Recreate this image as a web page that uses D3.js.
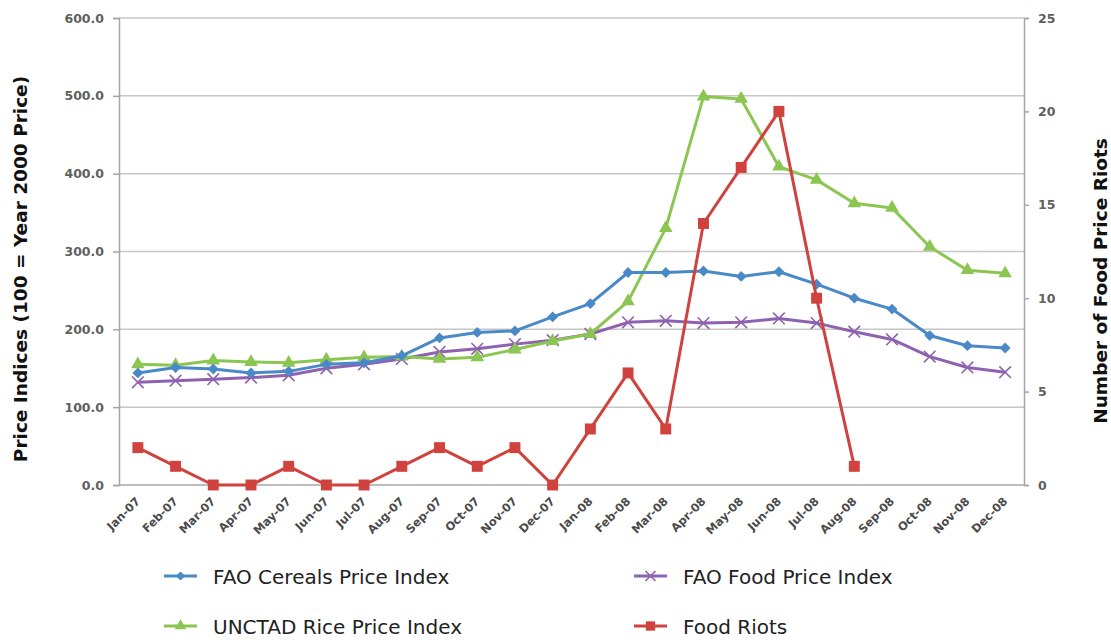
<!DOCTYPE html>
<html>
<head>
<meta charset="utf-8">
<script src="https://cdn.jsdelivr.net/npm/d3@7"></script>
<style>
  html, body { margin: 0; padding: 0; background: #fff; }
  svg { display: block; font-family: "DejaVu Sans", "Open Sans", sans-serif; }
</style>
</head>
<body>
<svg id="chart" width="1111" height="640"></svg>
<script>
// Months, Jan 2007 – Dec 2008
const months = ["Jan-07","Feb-07","Mar-07","Apr-07","May-07","Jun-07","Jul-07","Aug-07","Sep-07","Oct-07","Nov-07","Dec-07",
                "Jan-08","Feb-08","Mar-08","Apr-08","May-08","Jun-08","Jul-08","Aug-08","Sep-08","Oct-08","Nov-08","Dec-08"];

// Price indices (100 = year 2000 price)
const cerealsIndex = [144,151,149,144,146,155,157,166,189,196,198,216,233,273,273,275,268,274,258,240,226,192,179,176];
const foodIndex    = [132,134,136,138,141,150,155,162,171,175,181,186,194,209,211,208,209,214,208,197,187,165,151,145];
const riceIndex    = [155,154,160,158,157,161,164,165,162,164,174,185,194,236,330,499,496,409,392,362,356,306,276,272];

// Number of food price riots (Jan-07 – Aug-08)
const riots = [2,1,0,0,1,0,0,1,2,1,2,0,3,6,3,14,17,20,10,1];

const leftTicks  = [0,100,200,300,400,500,600];
const rightTicks = [0,5,10,15,20,25];

const colors = { cereals: "#4A89C8", food: "#8E62B0", rice: "#8CC652", riots: "#D0423E" };

const svg = d3.select("#chart");
const plot = { left: 119, right: 1024, top: 18, bottom: 485 };

const x = d3.scalePoint().domain(months).range([plot.left, plot.right]).padding(0.5);
const yL = d3.scaleLinear().domain([0, 600]).range([plot.bottom, plot.top]);
const yR = d3.scaleLinear().domain([0, 25]).range([plot.bottom, plot.top]);

// Horizontal gridlines
svg.append("g")
  .selectAll("line")
  .data(leftTicks.filter(d => d > 0))
  .join("line")
  .attr("x1", plot.left).attr("x2", plot.right)
  .attr("y1", d => yL(d)).attr("y2", d => yL(d))
  .attr("stroke", "#c6c6c6").attr("stroke-width", 1.5);

// Left axis
const axL = svg.append("g")
  .attr("transform", `translate(${plot.left},0)`)
  .call(d3.axisLeft(yL).tickValues(leftTicks).tickFormat(d3.format(".1f")).tickSize(6).tickPadding(9));
axL.select(".domain").attr("stroke", "#a6a6a6").attr("stroke-width", 1.5);
axL.selectAll(".tick line").attr("stroke", "#a6a6a6").attr("stroke-width", 1.5);
axL.selectAll("text").attr("fill", "#5f5f5f").attr("font-size", 12.5).attr("font-weight", 700)
  .attr("font-family", "DejaVu Sans");

// Right axis
const axR = svg.append("g")
  .attr("transform", `translate(${plot.right},0)`)
  .call(d3.axisRight(yR).tickValues(rightTicks).tickFormat(d3.format("d")).tickSize(5).tickPadding(9));
axR.select(".domain").attr("stroke", "#a6a6a6").attr("stroke-width", 1.5);
axR.selectAll(".tick line").attr("stroke", "#a6a6a6").attr("stroke-width", 1.5);
axR.selectAll("text").attr("fill", "#5f5f5f").attr("font-size", 12.5).attr("font-weight", 700)
  .attr("font-family", "DejaVu Sans");

// Bottom axis line and month labels
svg.append("line")
  .attr("x1", plot.left).attr("x2", plot.right)
  .attr("y1", plot.bottom).attr("y2", plot.bottom)
  .attr("stroke", "#a6a6a6").attr("stroke-width", 1.5);

svg.append("g")
  .selectAll("text")
  .data(months)
  .join("text")
  .attr("transform", d => `translate(${x(d) + 3},${plot.bottom + 17}) rotate(-45)`)
  .attr("text-anchor", "end")
  .attr("fill", "#4a4a4a")
  .attr("font-size", 11.5)
  .attr("font-weight", 700)
  .text(d => d);

// Axis titles
svg.append("text")
  .attr("transform", `translate(27,269) rotate(-90)`)
  .attr("text-anchor", "middle")
  .attr("font-size", 18.5).attr("font-weight", 700).attr("fill", "#111")
  .text("Price Indices (100 = Year 2000 Price)");

svg.append("text")
  .attr("transform", `translate(1107,281) rotate(-90)`)
  .attr("text-anchor", "middle")
  .attr("font-size", 18.5).attr("font-weight", 700).attr("fill", "#111")
  .text("Number of Food Price Riots");

// Marker shapes
const sym = {
  diamond: d3.symbol().type(d3.symbolDiamond2).size(75),
  triangle: d3.symbol().type(d3.symbolTriangle).size(80),
  square: d3.symbol().type(d3.symbolSquare).size(120),
  cross: d3.symbol().type(d3.symbolX).size(90)
};

const series = [
  { name: "FAO Food Price Index",    values: foodIndex,    y: yL, color: colors.food,    shape: "cross" },
  { name: "UNCTAD Rice Price Index", values: riceIndex,    y: yL, color: colors.rice,    shape: "triangle" },
  { name: "FAO Cereals Price Index", values: cerealsIndex, y: yL, color: colors.cereals, shape: "diamond" },
  { name: "Food Riots",              values: riots,        y: yR, color: colors.riots,   shape: "square" }
];

function drawMarker(sel, s, scale = 1) {
  const p = sel.append("path").attr("d", sym[s.shape]()).attr("transform", `scale(${scale})`);
  if (s.shape === "cross") {
    p.attr("fill", "none").attr("stroke", s.color).attr("stroke-width", 1.6 / scale);
  } else {
    p.attr("fill", s.color);
  }
  return p;
}

series.forEach(s => {
  const line = d3.line()
    .x((d, i) => x(months[i]))
    .y(d => s.y(d));
  svg.append("path")
    .datum(s.values)
    .attr("d", line)
    .attr("fill", "none")
    .attr("stroke", s.color)
    .attr("stroke-width", 3)
    .attr("stroke-linejoin", "round");
  const g = svg.append("g");
  s.values.forEach((v, i) => {
    const m = g.append("g").attr("transform", `translate(${x(months[i])},${s.y(v)})`);
    drawMarker(m, s);
  });
});

// Legend
const legendItems = [
  { s: series[2], lx: 164, ly: 576 },
  { s: series[0], lx: 634, ly: 576 },
  { s: series[1], lx: 164, ly: 626 },
  { s: series[3], lx: 634, ly: 626 }
];
legendItems.forEach(({ s, lx, ly }) => {
  const g = svg.append("g");
  g.append("line")
    .attr("x1", lx).attr("x2", lx + 33)
    .attr("y1", ly).attr("y2", ly)
    .attr("stroke", s.color).attr("stroke-width", 3);
  const m = g.append("g").attr("transform", `translate(${lx + 16.5},${ly})`);
  drawMarker(m, s, 0.85);
  g.append("text")
    .attr("x", lx + 49).attr("y", ly + 8)
    .attr("font-size", 20).attr("fill", "#222")
    .text(s.name);
});
</script>
</body>
</html>
